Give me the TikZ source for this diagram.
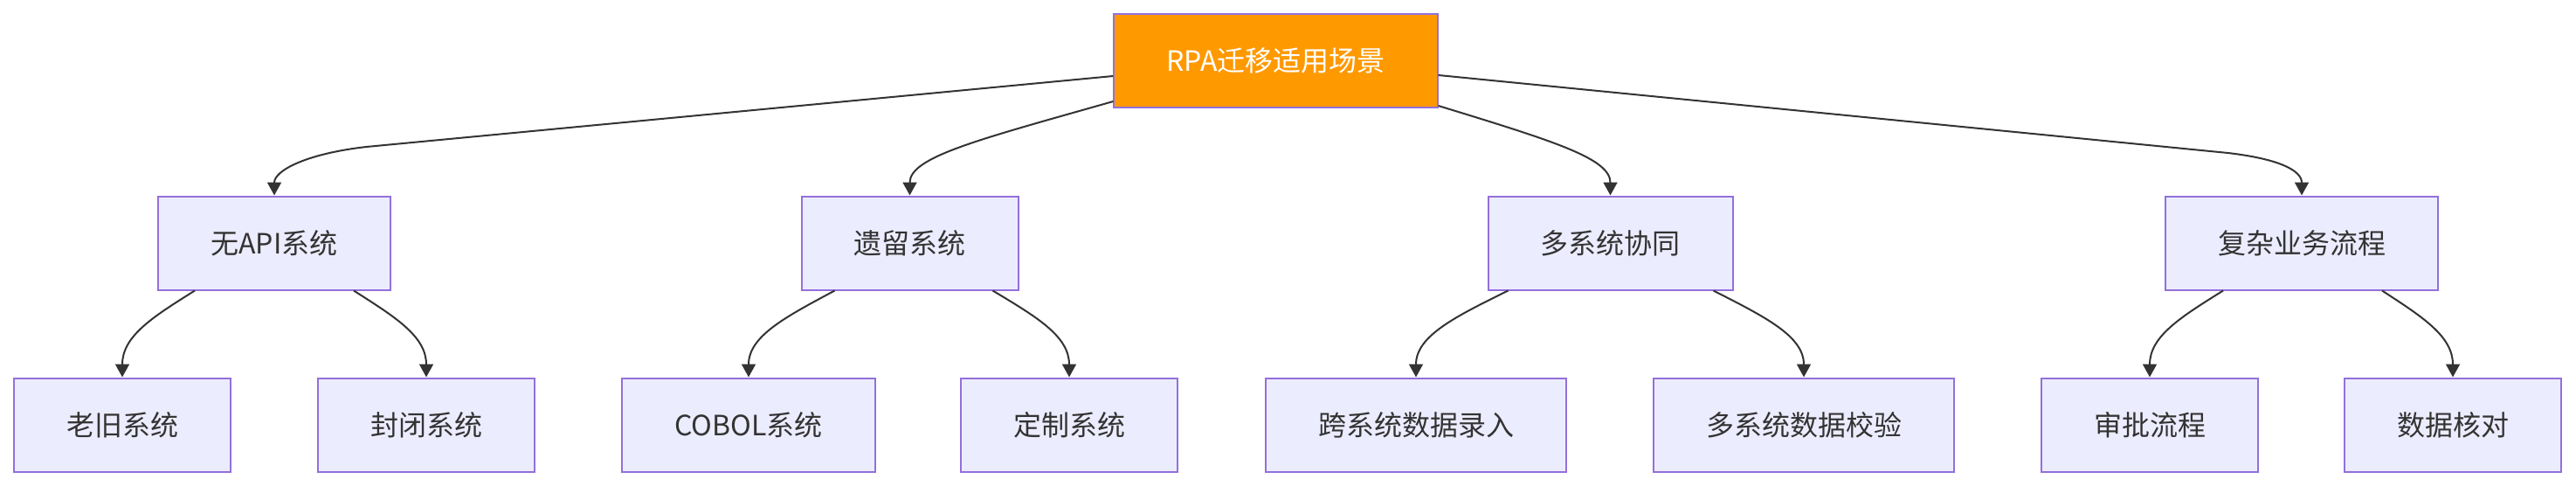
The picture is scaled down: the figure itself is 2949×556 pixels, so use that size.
\documentclass[tikz,border=0pt]{standalone}
\usepackage{fontspec}
\setmainfont{Noto Sans CJK SC}
\usetikzlibrary{arrows.meta, positioning}

\definecolor{boxfill}{HTML}{ECECFF}
\definecolor{boxline}{HTML}{9370DB}
\definecolor{rootfill}{HTML}{FF9900}
\definecolor{inkgray}{HTML}{333333}

\tikzset{
  box/.style={draw=boxline, fill=boxfill, line width=1pt, text=inkgray,
    inner xsep=30pt, inner ysep=0pt, minimum height=53.5pt,
    font=\fontsize{16}{19}\selectfont},
  rootbox/.style={box, fill=rootfill, text=white},
  edge/.style={draw=inkgray, line width=1pt, -{Triangle[length=7.5pt,width=8pt]}},
}

\begin{document}
\begin{tikzpicture}[x=0.5pt, y=-0.5pt]
  \useasboundingbox (0,0) rectangle (2949,556);

  % Root
  \node[rootbox] (root) at (1460.5,69.5) {RPA迁移适用场景};

  % Scenario row
  \node[box] (noapi)   at (314,278)    {无API系统};
  \node[box] (legacy)  at (1041.5,278) {遗留系统};
  \node[box] (multi)   at (1843.5,278) {多系统协同};
  \node[box] (complex) at (2635,278)   {复杂业务流程};

  % Example row
  \node[box] (old)        at (140,486)  {老旧系统};
  \node[box] (closed)     at (488,486)  {封闭系统};
  \node[box] (cobol)      at (857,486)  {COBOL系统};
  \node[box] (custom)     at (1224,486) {定制系统};
  \node[box] (crossentry) at (1621,486) {跨系统数据录入};
  \node[box] (multicheck) at (2065,486) {多系统数据校验};
  \node[box] (approval)   at (2461,486) {审批流程};
  \node[box] (reconcile)  at (2808,486) {数据核对};

  % Root to scenarios
  \draw[edge] ([yshift=-8.75pt]root.west) -- ++(-855,81)
    .. controls +(-70,8) and +(0,-28) .. (noapi.north);
  \draw[edge] ([yshift=-23.25pt]root.west)
    .. controls +(-155,44) and +(0,-44) .. (legacy.north);
  \draw[edge] ([yshift=-25.75pt]root.east)
    .. controls +(134,41) and +(0,-42) .. (multi.north);
  \draw[edge] ([yshift=-8.25pt]root.east) -- ++(904,89)
    .. controls +(60,7) and +(0,-28) .. (complex.north);

  % Scenarios to examples
  \draw[edge] ([xshift=-45.5pt]noapi.south) .. controls +(-48,30) and +(0,-47) .. (old.north);
  \draw[edge] ([xshift=45.5pt]noapi.south) .. controls +(47,30) and +(0,-47) .. (closed.north);
  \draw[edge] ([xshift=-43pt]legacy.south) .. controls +(-56,30) and +(0,-47) .. (cobol.north);
  \draw[edge] ([xshift=47.5pt]legacy.south) .. controls +(50,30) and +(0,-47) .. (custom.north);
  \draw[edge] ([xshift=-58.5pt]multi.south) .. controls +(-61,30) and +(0,-47) .. (crossentry.north);
  \draw[edge] ([xshift=59pt]multi.south) .. controls +(59,30) and +(0,-47) .. (multicheck.north);
  \draw[edge] ([xshift=-45pt]complex.south) .. controls +(-48,30) and +(0,-47) .. (approval.north);
  \draw[edge] ([xshift=46pt]complex.south) .. controls +(46,30) and +(0,-47) .. (reconcile.north);
\end{tikzpicture}
\end{document}
